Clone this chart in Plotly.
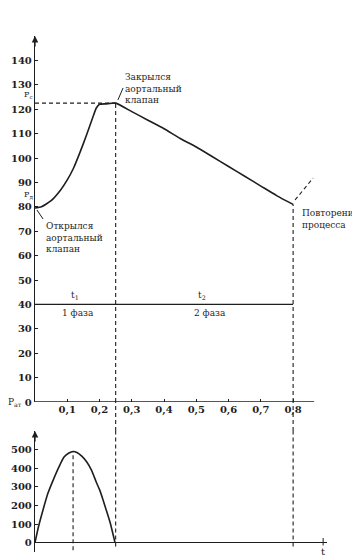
import plotly.graph_objects as go

# ---- data ----
t_pressure = [0, 0.02, 0.05, 0.08, 0.10, 0.12, 0.14, 0.16, 0.18, 0.19, 0.20, 0.22, 0.25,
              0.30, 0.35, 0.40, 0.45, 0.50, 0.55, 0.60, 0.65, 0.70, 0.75, 0.80]
pressure = [79.5, 80, 82.5, 87, 91, 96, 102.5, 109.5, 117, 120.5, 122, 122.2, 122.5,
            119, 115.5, 112, 108, 104.5, 100.5, 96.5, 92.5, 88.5, 84.5, 81]

t_flow = [0, 0.01, 0.025, 0.04, 0.057, 0.075, 0.09, 0.105, 0.118, 0.13, 0.145,
          0.16, 0.175, 0.19, 0.20, 0.21, 0.22, 0.233, 0.248]
flow = [0, 80, 177, 265, 339, 410, 460, 482, 490, 485, 465,
        435, 390, 325, 285, 235, 180, 107, 0]

x_ticks = [0.1, 0.2, 0.3, 0.4, 0.5, 0.6, 0.7, 0.8]
x_ticklabels = ["0,1", "0,2", "0,3", "0,4", "0,5", "0,6", "0,7", "0,8"]
p_ticks = [0, 10, 20, 30, 40, 50, 60, 70, 80, 90, 100, 110, 120, 130, 140]
q_ticks = [0, 100, 200, 300, 400, 500]

t_close = 0.25      # aortic valve closes
t_repeat = 0.80     # cycle repeats
t_qmax = 0.118
p_sys = 122.5
p_dia = 81
p_phase = 40
t_axis_end = 0.865

INK = "#1e1e1e"
FONT = "DejaVu Serif"

fig = go.Figure()
fig.add_trace(go.Scatter(x=t_pressure, y=pressure, mode="lines",
                         line=dict(color=INK, width=1.6, shape="spline", smoothing=0.5),
                         xaxis="x", yaxis="y", hoverinfo="skip"))
fig.add_trace(go.Scatter(x=t_flow, y=flow, mode="lines",
                         line=dict(color=INK, width=1.6, shape="spline", smoothing=0.6),
                         xaxis="x2", yaxis="y2", hoverinfo="skip"))

dash = "4px,3px"
shapes = []
def seg(x0, y0, x1, y1, xref, yref, d=dash, w=1.1):
    shapes.append(dict(type="line", x0=x0, y0=y0, x1=x1, y1=y1, xref=xref, yref=yref,
                       line=dict(color=INK, width=w, dash=d)))

top_dom = [0.2810, 0.9489]
bot_dom = [0.0073, 0.2281]

# top time axis
seg(0, 0, t_axis_end, 0, "x", "y", d="solid", w=1.4)
# systolic level
seg(0, p_sys, t_close, p_sys, "x", "y")
# vertical at valve closing
seg(t_close, 0, t_close, p_sys, "x", "y")
seg(t_close, bot_dom[1], t_close, top_dom[0], "x", "paper")
seg(t_close, -20, t_close, 600, "x2", "y2")
# vertical at repeat
seg(t_repeat, 0, t_repeat, p_dia, "x", "y")
seg(t_repeat, bot_dom[1], t_repeat, top_dom[0], "x", "paper")
seg(t_repeat, -20, t_repeat, 600, "x2", "y2")
# vertical at max flow
seg(t_qmax, -40, t_qmax, 490, "x2", "y2")
# phase line
seg(0, p_phase, t_repeat, p_phase, "x", "y", d="solid", w=1.3)
# pointers
seg(0.257, 123.8, 0.273, 128.7, "x", "y", d="solid", w=1)
seg(0.006, 78.7, 0.025, 75, "x", "y", d="solid", w=1)
seg(0.806, 82.8, 0.862, 91.8, "x", "y", d="4px,3px", w=1.1)
# small end tick on lower time axis
seg(0.893, -15, 0.893, 25, "x2", "y2", d="solid", w=1)

ann = []
def text(x, y, s, xref="x", yref="y", xa="left", ya="middle", size=9, **kw):
    ann.append(dict(x=x, y=y, text=s, xref=xref, yref=yref, xanchor=xa, yanchor=ya,
                    showarrow=False, font=dict(family=FONT, size=size, color=INK), align="left", **kw))

text(-0.006, 152.5, "P, мм рт.ст", size=9)
text(0.273, 136, "Закрылся<br>аортальный<br>клапан", ya="top")
text(0.028, 75, "Открылся<br>аортальный<br>клапан", ya="top")
text(0.821, 80.3, "Повторение<br>процесса", ya="top")
text(0.124, 43.6, "t<sub>1</sub>", xa="center", size=9)
text(0.133, 36.6, "1 фаза", xa="center", size=9)
text(0.518, 43.6, "t<sub>2</sub>", xa="center", size=9)
text(0.542, 36.6, "2 фаза", xa="center", size=9)
text(0, 125.8, "P<sub>с</sub>", xa="right", size=8, xshift=0)
text(0, 84.8, "P<sub>д</sub>", xa="right", size=8, xshift=0)
text(0, 0, "P<sub>ат</sub>", xa="right", size=9, xshift=-11)
text(0.885, -3, "t, c", xa="center", size=10)
text(-0.006, 688, "Q, мл/с", xref="x2", yref="y2", size=9)
text(0.893, -45, "t", xref="x2", yref="y2", xa="center", size=10)

# axis arrows
for xr, yr, yv in (("x", "y", 150), ("x2", "y2", 600)):
    ann.append(dict(x=0, y=yv, xref=xr, yref=yr, ax=0, ay=12, text="", showarrow=True,
                    arrowhead=2, arrowsize=1, arrowwidth=1.3, arrowcolor=INK))

axfont = dict(family=FONT, size=10, color=INK, weight="bold")
fig.update_layout(
    width=352, height=548,
    margin=dict(l=27, r=33, t=0, b=0, autoexpand=False),
    paper_bgcolor="white", plot_bgcolor="white",
    showlegend=False,
    shapes=shapes, annotations=ann,
    xaxis=dict(domain=[0, 1], range=[0, 0.905], anchor="y", automargin=False,
               tickvals=x_ticks, ticktext=x_ticklabels, ticks="inside", ticklen=3,
               tickcolor=INK, showline=False,
               showgrid=False, zeroline=False, tickfont=axfont),
    yaxis=dict(domain=top_dom, range=[0, 150], anchor="x", automargin=False,
               tickvals=p_ticks, ticks="inside", ticklen=3, tickcolor=INK,
               showline=True, linecolor=INK, linewidth=1.4,
               showgrid=False, zeroline=False, tickfont=axfont),
    xaxis2=dict(domain=[0, 1], range=[0, 0.905], anchor="y2", automargin=False,
                showticklabels=False, ticks="", showline=False,
                showgrid=False, zeroline=False),
    yaxis2=dict(domain=bot_dom, range=[-50, 600], anchor="x2", automargin=False,
                tickvals=q_ticks, ticks="inside", ticklen=3, tickcolor=INK,
                showline=True, linecolor=INK, linewidth=1.4,
                showgrid=False, zeroline=True, zerolinecolor=INK, zerolinewidth=1.4,
                tickfont=axfont),
)

fig.write_html("out.html")
